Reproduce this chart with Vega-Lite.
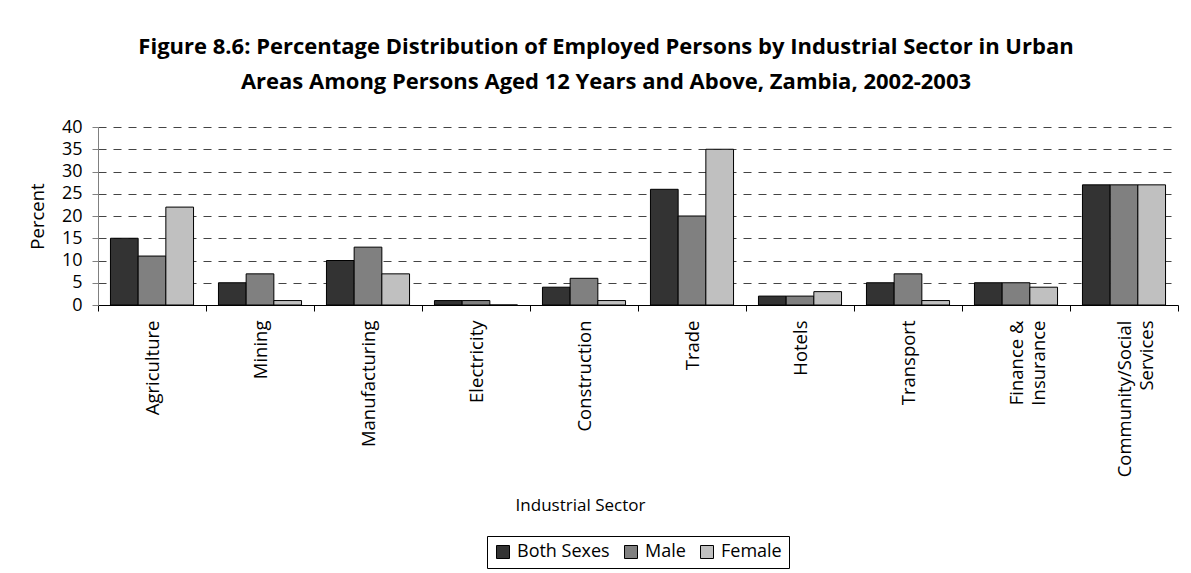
{
  "$schema": "https://vega.github.io/schema/vega-lite/v6.json",
  "width": 1080,
  "height": 178,
  "autosize": "none",
  "padding": {"left": 98, "top": 127, "right": 13, "bottom": 268},
  "background": "white",
  "title": {
    "text": ["Figure 8.6: Percentage Distribution of Employed Persons by Industrial Sector in Urban", "Areas Among Persons Aged 12 Years and Above, Zambia, 2002-2003"],
    "font": "Open Sans",
    "fontSize": 22,
    "fontWeight": "bold",
    "color": "black",
    "anchor": "middle",
    "frame": "group",
    "dx": -32,
    "lineHeight": 35,
    "offset": 24
  },
  "data": {
    "values": [
      {"sector": "Agriculture", "sex": "Both Sexes", "percent": 15},
      {"sector": "Agriculture", "sex": "Male", "percent": 11},
      {"sector": "Agriculture", "sex": "Female", "percent": 22},
      {"sector": "Mining", "sex": "Both Sexes", "percent": 5},
      {"sector": "Mining", "sex": "Male", "percent": 7},
      {"sector": "Mining", "sex": "Female", "percent": 1},
      {"sector": "Manufacturing", "sex": "Both Sexes", "percent": 10},
      {"sector": "Manufacturing", "sex": "Male", "percent": 13},
      {"sector": "Manufacturing", "sex": "Female", "percent": 7},
      {"sector": "Electricity", "sex": "Both Sexes", "percent": 1},
      {"sector": "Electricity", "sex": "Male", "percent": 1},
      {"sector": "Electricity", "sex": "Female", "percent": 0},
      {"sector": "Construction", "sex": "Both Sexes", "percent": 4},
      {"sector": "Construction", "sex": "Male", "percent": 6},
      {"sector": "Construction", "sex": "Female", "percent": 1},
      {"sector": "Trade", "sex": "Both Sexes", "percent": 26},
      {"sector": "Trade", "sex": "Male", "percent": 20},
      {"sector": "Trade", "sex": "Female", "percent": 35},
      {"sector": "Hotels", "sex": "Both Sexes", "percent": 2},
      {"sector": "Hotels", "sex": "Male", "percent": 2},
      {"sector": "Hotels", "sex": "Female", "percent": 3},
      {"sector": "Transport", "sex": "Both Sexes", "percent": 5},
      {"sector": "Transport", "sex": "Male", "percent": 7},
      {"sector": "Transport", "sex": "Female", "percent": 1},
      {"sector": "Finance & Insurance", "sex": "Both Sexes", "percent": 5},
      {"sector": "Finance & Insurance", "sex": "Male", "percent": 5},
      {"sector": "Finance & Insurance", "sex": "Female", "percent": 4},
      {"sector": "Community/Social Services", "sex": "Both Sexes", "percent": 27},
      {"sector": "Community/Social Services", "sex": "Male", "percent": 27},
      {"sector": "Community/Social Services", "sex": "Female", "percent": 27}
    ]
  },
  "mark": {"type": "bar", "stroke": "black", "strokeWidth": 1},
  "encoding": {
    "x": {
      "field": "sector",
      "type": "nominal",
      "sort": null,
      "scale": {"paddingInner": 0, "paddingOuter": 0},
      "axis": {
        "title": "Industrial Sector",
        "titleFont": "Open Sans",
        "titleFontSize": 17,
        "titleFontWeight": "normal",
        "titleColor": "black",
        "titlePadding": 21,
        "titleX": 482,
        "labelFont": "Open Sans",
        "labelFontSize": 18.5,
        "labelColor": "black",
        "labelAngle": -90,
        "labelAlign": "right",
        "labelBaseline": "middle",
        "labelPadding": 9,
        "labelLineHeight": 22,
        "labelExpr": "datum.label == 'Finance & Insurance' ? ['Finance &', 'Insurance'] : datum.label == 'Community/Social Services' ? ['Community/Social', 'Services'] : datum.label",
        "tickBand": "extent",
        "tickSize": 6,
        "tickColor": "black",
        "domainColor": "black",
        "grid": false
      }
    },
    "xOffset": {
      "field": "sex",
      "type": "nominal",
      "sort": ["Both Sexes", "Male", "Female"],
      "scale": {"paddingInner": 0, "paddingOuter": 0.45}
    },
    "y": {
      "field": "percent",
      "type": "quantitative",
      "scale": {"domain": [0, 40]},
      "axis": {
        "title": "Percent",
        "titleFont": "Open Sans",
        "titleFontSize": 18.5,
        "titleFontWeight": "normal",
        "titleColor": "black",
        "titlePadding": 14,
        "labelFont": "Open Sans",
        "labelFontSize": 18,
        "labelColor": "black",
        "labelPadding": 10,
        "values": [0, 5, 10, 15, 20, 25, 30, 35, 40],
        "tickSize": 6,
        "tickColor": "#808080",
        "domainColor": "#808080",
        "grid": true,
        "gridColor": "#444444",
        "gridDash": [8, 7],
        "gridWidth": 1.2
      }
    },
    "color": {
      "field": "sex",
      "type": "nominal",
      "sort": ["Both Sexes", "Male", "Female"],
      "scale": {"domain": ["Both Sexes", "Male", "Female"], "range": ["#333333", "#808080", "#c0c0c0"]},
      "legend": {
        "title": null,
        "orient": "none",
        "legendX": 389,
        "legendY": 409,
        "direction": "horizontal",
        "strokeColor": "black",
        "padding": 7,
        "symbolType": "square",
        "symbolSize": 169,
        "symbolStrokeColor": "black",
        "symbolStrokeWidth": 1,
        "symbolOpacity": 1,
        "labelFont": "Open Sans",
        "labelFontSize": 18,
        "labelColor": "black",
        "labelOffset": 5,
        "columnPadding": 12
      }
    }
  },
  "config": {
    "view": {"stroke": null},
    "axis": {"domainWidth": 1, "tickWidth": 1}
  }
}
